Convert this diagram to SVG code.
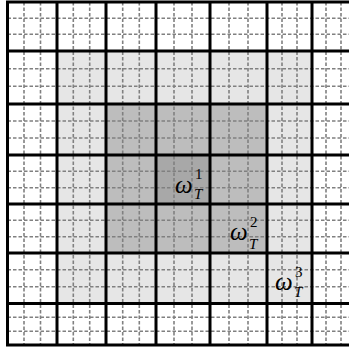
<svg xmlns="http://www.w3.org/2000/svg" width="349" height="349" viewBox="0 0 349 349">
<style>
.thick{stroke:#000;stroke-width:3;fill:none}
.dash{stroke:#808080;stroke-width:1.6;stroke-dasharray:3.5 2;fill:none}
.lbl{font-family:"Liberation Serif",serif;font-style:italic;fill:#000}
</style>
<rect width="349" height="349" fill="#fff"/>
<g id="region3"><rect x="57" y="51" width="255" height="252.5" fill="#e6e6e6"/></g>
<g id="region2"><rect x="106" y="104" width="161" height="149" fill="#bdbdbd"/></g>
<g id="region1"><rect x="156" y="155" width="54" height="49" fill="#a8a8a8"/></g>
<g id="fine-grid" class="dash">
<path d="M24 2V345M40.5 2V345M73.3 2V345M89.7 2V345M122.7 2V345M139.3 2V345M174 2V345M192 2V345M229 2V345M248 2V345M282 2V345M297 2V345M326 2V345M341 2V345"/>
<path d="M7.5 18.2H349M7.5 34.3H349M7.5 68.7H349M7.5 86.3H349M7.5 121H349M7.5 138H349M7.5 171.3H349M7.5 187.7H349M7.5 220.3H349M7.5 236.7H349M7.5 269.8H349M7.5 286.7H349M7.5 317.3H349M7.5 331.2H349"/>
</g>
<g id="coarse-grid" class="thick">
<path d="M7.5 2V345M57 2V345M106 2V345M156 2V345M210 2V345M267 2V345M312 2V345"/>
<path d="M6 2H349M6 51H349M6 104H349M6 155H349M6 204H349M6 253H349M6 303.5H349M6 345H349"/>
</g>
<g id="labels" class="lbl">
<text x="175" y="193" font-size="25">ω</text><text x="195" y="179" font-size="15" font-style="normal">1</text><text x="194" y="199" font-size="15">T</text>
<text x="230" y="240" font-size="25">ω</text><text x="250" y="227" font-size="15" font-style="normal">2</text><text x="249" y="249" font-size="15">T</text>
<text x="275" y="290" font-size="25">ω</text><text x="295" y="277" font-size="15" font-style="normal">3</text><text x="294" y="297" font-size="15">T</text>
</g>
</svg>
